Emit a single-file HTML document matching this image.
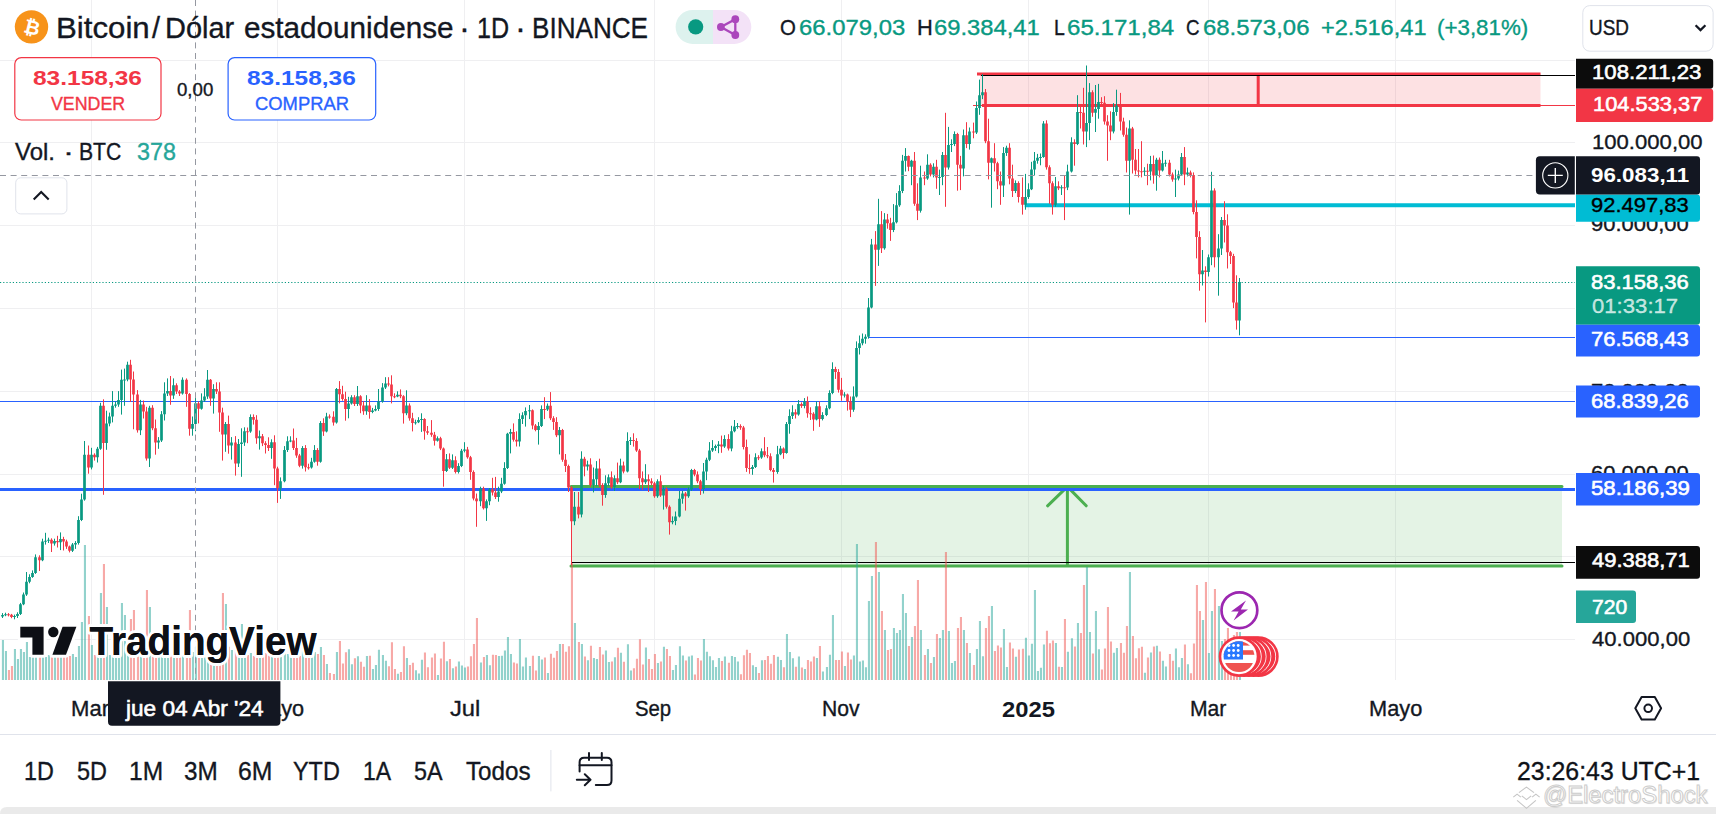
<!DOCTYPE html>
<html lang="es"><head><meta charset="utf-8"><title>BTCUSD · TradingView</title>
<style>
html,body{margin:0;padding:0}
body{width:1716px;height:818px;position:relative;overflow:hidden;background:#fff;font-family:'Liberation Sans', sans-serif;color:#131722}
svg{position:absolute;left:0;top:0;overflow:visible}
.t{position:absolute;white-space:pre;transform-origin:0 50%;display:block;-webkit-text-stroke-width:0.35px}
.coin{position:absolute;left:19.9px;top:15.6px;width:24px;height:24px;text-align:center;color:#fff;font:700 19.5px/24px 'DejaVu Sans',sans-serif;transform:rotate(14deg)}
</style></head>
<body>
<svg class="chart" width="1716" height="818" viewBox="0 0 1716 818"><path d="M91.5 0V680M277.5 0V680M464.5 0V680M654.5 0V680M841.5 0V680M1028.5 0V680M1208.5 0V680M1395.5 0V680M0 60.5H1575M0 142.5H1575M0 225.5H1575M0 308.5H1575M0 391.5H1575M0 474.5H1575M0 556.5H1575M0 639.5H1575" stroke="#efeff1" stroke-width="1" fill="none"/>
<rect x="980" y="74" width="560.5" height="31.5" fill="#f23645" fill-opacity=".15"/>
<path d="M973 105.5H1575" stroke="#f23645" stroke-width="1"/>
<path d="M977 74H1540.5M982 105.5H1540.5M1258.2 72.5V107" stroke="#f23645" stroke-width="3"/>
<path d="M981 75.5H1575" stroke="#000" stroke-width="1"/>
<path d="M1024.7 205.3H1575" stroke="#00bcd4" stroke-width="4"/>
<path d="M869 337.5H1575M0 401.5H1575" stroke="#2962ff" stroke-width="1.2"/>
<rect x="571" y="486.6" width="991" height="79.4" fill="#4caf50" fill-opacity=".15"/>
<path d="M571 486.6H1562M571 566H1562M1067.4 566V487M1047.6 505.8L1067.4 486.6L1086.2 505.8" stroke="#4caf50" stroke-width="3" fill="none" stroke-linecap="round" stroke-linejoin="round"/>
<path d="M0 489.5H1575" stroke="#2962ff" stroke-width="2.9"/>
<path d="M571 562.5H1575" stroke="#000" stroke-width="1"/>
<path d="M1.9 680v-40.0h2.1v40.0zM4.9 680v-29.0h2.1v29.0zM13.9 680v-31.0h2.1v31.0zM16.9 680v-21.0h2.1v21.0zM19.9 680v-31.0h2.1v31.0zM22.9 680v-28.0h2.1v28.0zM25.9 680v-38.0h2.1v38.0zM28.9 680v-23.0h2.1v23.0zM31.9 680v-25.0h2.1v25.0zM34.9 680v-27.0h2.1v27.0zM41.9 680v-26.0h2.1v26.0zM44.9 680v-23.0h2.1v23.0zM47.9 680v-25.0h2.1v25.0zM53.9 680v-24.0h2.1v24.0zM59.9 680v-23.5h2.1v23.5zM71.9 680v-26.0h2.1v26.0zM74.9 680v-23.0h2.1v23.0zM77.9 680v-33.9h2.1v33.9zM80.9 680v-58.0h2.1v58.0zM83.9 680v-135.0h2.1v135.0zM90.9 680v-35.0h2.1v35.0zM96.9 680v-27.0h2.1v27.0zM99.9 680v-87.0h2.1v87.0zM105.9 680v-73.0h2.1v73.0zM108.9 680v-25.0h2.1v25.0zM111.9 680v-38.4h2.1v38.4zM114.9 680v-24.0h2.1v24.0zM117.9 680v-26.3h2.1v26.3zM120.9 680v-77.0h2.1v77.0zM123.9 680v-65.0h2.1v65.0zM126.9 680v-27.0h2.1v27.0zM139.9 680v-33.4h2.1v33.4zM148.9 680v-73.0h2.1v73.0zM157.9 680v-27.0h2.1v27.0zM160.9 680v-33.9h2.1v33.9zM163.9 680v-43.7h2.1v43.7zM166.9 680v-23.0h2.1v23.0zM172.9 680v-27.0h2.1v27.0zM181.9 680v-24.2h2.1v24.2zM191.9 680v-28.1h2.1v28.1zM194.9 680v-33.3h2.1v33.3zM200.9 680v-25.0h2.1v25.0zM203.9 680v-27.0h2.1v27.0zM206.9 680v-25.6h2.1v25.6zM212.9 680v-28.1h2.1v28.1zM224.9 680v-76.0h2.1v76.0zM230.9 680v-29.9h2.1v29.9zM237.9 680v-30.9h2.1v30.9zM240.9 680v-55.9h2.1v55.9zM243.9 680v-23.0h2.1v23.0zM249.9 680v-27.0h2.1v27.0zM258.9 680v-23.2h2.1v23.2zM270.9 680v-26.0h2.1v26.0zM279.9 680v-27.7h2.1v27.7zM283.9 680v-40.3h2.1v40.3zM286.9 680v-26.0h2.1v26.0zM289.9 680v-23.0h2.1v23.0zM301.9 680v-29.6h2.1v29.6zM310.9 680v-27.0h2.1v27.0zM313.9 680v-27.9h2.1v27.9zM319.9 680v-33.0h2.1v33.0zM325.9 680v-16.0h2.1v16.0zM335.9 680v-28.0h2.1v28.0zM347.9 680v-30.7h2.1v30.7zM350.9 680v-15.8h2.1v15.8zM356.9 680v-23.8h2.1v23.8zM365.9 680v-24.0h2.1v24.0zM371.9 680v-11.0h2.1v11.0zM374.9 680v-14.9h2.1v14.9zM377.9 680v-30.2h2.1v30.2zM381.9 680v-25.0h2.1v25.0zM384.9 680v-19.2h2.1v19.2zM396.9 680v-6.2h2.1v6.2zM405.9 680v-22.1h2.1v22.1zM414.9 680v-9.7h2.1v9.7zM417.9 680v-6.6h2.1v6.6zM420.9 680v-20.3h2.1v20.3zM436.9 680v-4.9h2.1v4.9zM445.9 680v-18.8h2.1v18.8zM451.9 680v-11.7h2.1v11.7zM457.9 680v-18.6h2.1v18.6zM460.9 680v-14.4h2.1v14.4zM463.9 680v-12.4h2.1v12.4zM479.9 680v-17.4h2.1v17.4zM485.9 680v-24.9h2.1v24.9zM488.9 680v-14.8h2.1v14.8zM497.9 680v-24.0h2.1v24.0zM500.9 680v-24.3h2.1v24.3zM503.9 680v-29.5h2.1v29.5zM506.9 680v-42.9h2.1v42.9zM509.9 680v-26.1h2.1v26.1zM518.9 680v-41.1h2.1v41.1zM521.9 680v-13.4h2.1v13.4zM524.9 680v-22.4h2.1v22.4zM528.9 680v-14.1h2.1v14.1zM537.9 680v-24.0h2.1v24.0zM540.9 680v-20.4h2.1v20.4zM546.9 680v-6.9h2.1v6.9zM558.9 680v-36.0h2.1v36.0zM573.9 680v-57.0h2.1v57.0zM580.9 680v-36.0h2.1v36.0zM586.9 680v-19.7h2.1v19.7zM592.9 680v-21.9h2.1v21.9zM595.9 680v-21.1h2.1v21.1zM604.9 680v-29.6h2.1v29.6zM607.9 680v-18.1h2.1v18.1zM613.9 680v-22.8h2.1v22.8zM619.9 680v-27.2h2.1v27.2zM626.9 680v-35.7h2.1v35.7zM629.9 680v-9.6h2.1v9.6zM644.9 680v-32.6h2.1v32.6zM656.9 680v-16.9h2.1v16.9zM662.9 680v-33.2h2.1v33.2zM671.9 680v-10.1h2.1v10.1zM674.9 680v-14.9h2.1v14.9zM678.9 680v-33.7h2.1v33.7zM681.9 680v-24.4h2.1v24.4zM687.9 680v-23.4h2.1v23.4zM690.9 680v-24.5h2.1v24.5zM702.9 680v-40.9h2.1v40.9zM705.9 680v-28.3h2.1v28.3zM708.9 680v-23.7h2.1v23.7zM711.9 680v-19.8h2.1v19.8zM714.9 680v-13.1h2.1v13.1zM717.9 680v-21.9h2.1v21.9zM723.9 680v-23.5h2.1v23.5zM730.9 680v-24.1h2.1v24.1zM733.9 680v-23.0h2.1v23.0zM736.9 680v-18.6h2.1v18.6zM751.9 680v-14.8h2.1v14.8zM754.9 680v-13.0h2.1v13.0zM760.9 680v-19.7h2.1v19.7zM776.9 680v-23.3h2.1v23.3zM779.9 680v-20.1h2.1v20.1zM785.9 680v-46.0h2.1v46.0zM788.9 680v-27.9h2.1v27.9zM791.9 680v-21.8h2.1v21.8zM797.9 680v-23.5h2.1v23.5zM803.9 680v-10.9h2.1v10.9zM815.9 680v-22.1h2.1v22.1zM821.9 680v-8.4h2.1v8.4zM825.9 680v-13.1h2.1v13.1zM828.9 680v-25.3h2.1v25.3zM831.9 680v-65.0h2.1v65.0zM843.9 680v-13.9h2.1v13.9zM852.9 680v-24.6h2.1v24.6zM855.9 680v-136.0h2.1v136.0zM858.9 680v-18.6h2.1v18.6zM861.9 680v-19.5h2.1v19.5zM864.9 680v-12.7h2.1v12.7zM867.9 680v-79.0h2.1v79.0zM870.9 680v-104.0h2.1v104.0zM877.9 680v-108.0h2.1v108.0zM883.9 680v-50.0h2.1v50.0zM892.9 680v-52.0h2.1v52.0zM895.9 680v-47.0h2.1v47.0zM898.9 680v-50.0h2.1v50.0zM901.9 680v-86.0h2.1v86.0zM904.9 680v-67.0h2.1v67.0zM910.9 680v-43.0h2.1v43.0zM919.9 680v-50.0h2.1v50.0zM926.9 680v-31.0h2.1v31.0zM932.9 680v-23.0h2.1v23.0zM938.9 680v-42.0h2.1v42.0zM941.9 680v-50.0h2.1v50.0zM947.9 680v-49.0h2.1v49.0zM950.9 680v-17.0h2.1v17.0zM953.9 680v-19.0h2.1v19.0zM962.9 680v-50.0h2.1v50.0zM968.9 680v-27.0h2.1v27.0zM975.9 680v-31.0h2.1v31.0zM978.9 680v-59.0h2.1v59.0zM981.9 680v-23.7h2.1v23.7zM990.9 680v-74.0h2.1v74.0zM1002.9 680v-51.1h2.1v51.1zM1005.9 680v-13.1h2.1v13.1zM1014.9 680v-23.2h2.1v23.2zM1024.9 680v-42.3h2.1v42.3zM1027.9 680v-24.4h2.1v24.4zM1030.9 680v-36.2h2.1v36.2zM1033.9 680v-90.0h2.1v90.0zM1036.9 680v-8.9h2.1v8.9zM1039.9 680v-12.2h2.1v12.2zM1042.9 680v-35.5h2.1v35.5zM1054.9 680v-37.0h2.1v37.0zM1060.9 680v-13.0h2.1v13.0zM1066.9 680v-28.3h2.1v28.3zM1070.9 680v-41.7h2.1v41.7zM1076.9 680v-57.0h2.1v57.0zM1085.9 680v-113.0h2.1v113.0zM1088.9 680v-48.0h2.1v48.0zM1094.9 680v-69.0h2.1v69.0zM1097.9 680v-30.7h2.1v30.7zM1112.9 680v-27.3h2.1v27.3zM1115.9 680v-31.9h2.1v31.9zM1128.9 680v-108.0h2.1v108.0zM1143.9 680v-7.2h2.1v7.2zM1149.9 680v-27.5h2.1v27.5zM1155.9 680v-34.2h2.1v34.2zM1161.9 680v-19.2h2.1v19.2zM1164.9 680v-13.4h2.1v13.4zM1174.9 680v-31.6h2.1v31.6zM1177.9 680v-12.8h2.1v12.8zM1180.9 680v-21.9h2.1v21.9zM1186.9 680v-15.8h2.1v15.8zM1201.9 680v-60.0h2.1v60.0zM1207.9 680v-27.0h2.1v27.0zM1210.9 680v-69.0h2.1v69.0zM1217.9 680v-74.0h2.1v74.0zM1220.9 680v-39.0h2.1v39.0zM1238.9 680v-48.0h2.1v48.0z" fill="#26a69a" fill-opacity=".5"/>
<path d="M7.9 680v-10.0h2.1v10.0zM10.9 680v-14.0h2.1v14.0zM38.9 680v-24.0h2.1v24.0zM50.9 680v-27.0h2.1v27.0zM56.9 680v-26.0h2.1v26.0zM62.9 680v-25.0h2.1v25.0zM65.9 680v-27.0h2.1v27.0zM68.9 680v-24.0h2.1v24.0zM87.9 680v-64.0h2.1v64.0zM93.9 680v-25.0h2.1v25.0zM102.9 680v-116.0h2.1v116.0zM129.9 680v-61.0h2.1v61.0zM132.9 680v-70.0h2.1v70.0zM136.9 680v-45.2h2.1v45.2zM142.9 680v-27.0h2.1v27.0zM145.9 680v-90.0h2.1v90.0zM151.9 680v-23.4h2.1v23.4zM154.9 680v-31.5h2.1v31.5zM169.9 680v-26.6h2.1v26.6zM175.9 680v-24.0h2.1v24.0zM178.9 680v-26.0h2.1v26.0zM185.9 680v-32.8h2.1v32.8zM188.9 680v-70.0h2.1v70.0zM197.9 680v-27.0h2.1v27.0zM209.9 680v-35.5h2.1v35.5zM215.9 680v-25.0h2.1v25.0zM218.9 680v-47.5h2.1v47.5zM221.9 680v-87.0h2.1v87.0zM227.9 680v-33.3h2.1v33.3zM234.9 680v-46.9h2.1v46.9zM246.9 680v-25.0h2.1v25.0zM252.9 680v-24.0h2.1v24.0zM255.9 680v-36.4h2.1v36.4zM261.9 680v-25.0h2.1v25.0zM264.9 680v-27.0h2.1v27.0zM267.9 680v-26.5h2.1v26.5zM273.9 680v-44.3h2.1v44.3zM276.9 680v-44.5h2.1v44.5zM292.9 680v-31.8h2.1v31.8zM295.9 680v-31.2h2.1v31.2zM298.9 680v-24.0h2.1v24.0zM304.9 680v-37.1h2.1v37.1zM307.9 680v-25.0h2.1v25.0zM316.9 680v-26.0h2.1v26.0zM322.9 680v-25.0h2.1v25.0zM328.9 680v-7.0h2.1v7.0zM332.9 680v-6.0h2.1v6.0zM338.9 680v-39.0h2.1v39.0zM341.9 680v-16.4h2.1v16.4zM344.9 680v-27.8h2.1v27.8zM353.9 680v-21.8h2.1v21.8zM359.9 680v-18.2h2.1v18.2zM362.9 680v-13.2h2.1v13.2zM368.9 680v-24.3h2.1v24.3zM387.9 680v-13.7h2.1v13.7zM390.9 680v-37.7h2.1v37.7zM393.9 680v-11.0h2.1v11.0zM399.9 680v-7.9h2.1v7.9zM402.9 680v-33.8h2.1v33.8zM408.9 680v-14.9h2.1v14.9zM411.9 680v-17.3h2.1v17.3zM423.9 680v-27.5h2.1v27.5zM426.9 680v-12.8h2.1v12.8zM430.9 680v-22.6h2.1v22.6zM433.9 680v-26.6h2.1v26.6zM439.9 680v-21.5h2.1v21.5zM442.9 680v-38.3h2.1v38.3zM448.9 680v-21.1h2.1v21.1zM454.9 680v-13.4h2.1v13.4zM466.9 680v-13.4h2.1v13.4zM469.9 680v-23.7h2.1v23.7zM472.9 680v-36.0h2.1v36.0zM475.9 680v-62.0h2.1v62.0zM482.9 680v-22.9h2.1v22.9zM491.9 680v-25.2h2.1v25.2zM494.9 680v-25.1h2.1v25.1zM512.9 680v-17.6h2.1v17.6zM515.9 680v-16.4h2.1v16.4zM531.9 680v-24.2h2.1v24.2zM534.9 680v-9.4h2.1v9.4zM543.9 680v-22.4h2.1v22.4zM549.9 680v-26.3h2.1v26.3zM552.9 680v-22.2h2.1v22.2zM555.9 680v-29.1h2.1v29.1zM561.9 680v-36.1h2.1v36.1zM564.9 680v-28.3h2.1v28.3zM567.9 680v-33.8h2.1v33.8zM570.9 680v-117.0h2.1v117.0zM577.9 680v-38.0h2.1v38.0zM583.9 680v-23.4h2.1v23.4zM589.9 680v-34.2h2.1v34.2zM598.9 680v-32.9h2.1v32.9zM601.9 680v-25.6h2.1v25.6zM610.9 680v-18.5h2.1v18.5zM616.9 680v-32.2h2.1v32.2zM622.9 680v-18.3h2.1v18.3zM632.9 680v-11.8h2.1v11.8zM635.9 680v-21.3h2.1v21.3zM638.9 680v-40.7h2.1v40.7zM641.9 680v-15.6h2.1v15.6zM647.9 680v-20.9h2.1v20.9zM650.9 680v-11.0h2.1v11.0zM653.9 680v-25.9h2.1v25.9zM659.9 680v-18.6h2.1v18.6zM665.9 680v-31.0h2.1v31.0zM668.9 680v-24.1h2.1v24.1zM684.9 680v-19.4h2.1v19.4zM693.9 680v-5.4h2.1v5.4zM696.9 680v-22.1h2.1v22.1zM699.9 680v-19.4h2.1v19.4zM720.9 680v-19.1h2.1v19.1zM727.9 680v-17.3h2.1v17.3zM739.9 680v-5.7h2.1v5.7zM742.9 680v-24.7h2.1v24.7zM745.9 680v-30.3h2.1v30.3zM748.9 680v-26.9h2.1v26.9zM757.9 680v-7.1h2.1v7.1zM763.9 680v-20.0h2.1v20.0zM766.9 680v-24.0h2.1v24.0zM769.9 680v-16.3h2.1v16.3zM772.9 680v-24.9h2.1v24.9zM782.9 680v-12.8h2.1v12.8zM794.9 680v-13.3h2.1v13.3zM800.9 680v-12.4h2.1v12.4zM806.9 680v-19.9h2.1v19.9zM809.9 680v-18.4h2.1v18.4zM812.9 680v-23.5h2.1v23.5zM818.9 680v-34.1h2.1v34.1zM834.9 680v-19.9h2.1v19.9zM837.9 680v-20.1h2.1v20.1zM840.9 680v-28.5h2.1v28.5zM846.9 680v-27.5h2.1v27.5zM849.9 680v-20.6h2.1v20.6zM874.9 680v-138.0h2.1v138.0zM880.9 680v-69.0h2.1v69.0zM886.9 680v-30.0h2.1v30.0zM889.9 680v-31.0h2.1v31.0zM907.9 680v-34.0h2.1v34.0zM913.9 680v-54.0h2.1v54.0zM916.9 680v-100.0h2.1v100.0zM923.9 680v-25.0h2.1v25.0zM929.9 680v-17.0h2.1v17.0zM935.9 680v-46.0h2.1v46.0zM944.9 680v-128.0h2.1v128.0zM956.9 680v-52.0h2.1v52.0zM959.9 680v-63.0h2.1v63.0zM965.9 680v-37.0h2.1v37.0zM972.9 680v-15.0h2.1v15.0zM984.9 680v-52.0h2.1v52.0zM987.9 680v-64.0h2.1v64.0zM993.9 680v-28.9h2.1v28.9zM996.9 680v-34.5h2.1v34.5zM999.9 680v-32.6h2.1v32.6zM1008.9 680v-37.4h2.1v37.4zM1011.9 680v-31.4h2.1v31.4zM1017.9 680v-30.4h2.1v30.4zM1021.9 680v-31.3h2.1v31.3zM1045.9 680v-49.3h2.1v49.3zM1048.9 680v-36.7h2.1v36.7zM1051.9 680v-39.6h2.1v39.6zM1057.9 680v-13.2h2.1v13.2zM1063.9 680v-61.0h2.1v61.0zM1073.9 680v-33.5h2.1v33.5zM1079.9 680v-47.0h2.1v47.0zM1082.9 680v-95.0h2.1v95.0zM1091.9 680v-26.6h2.1v26.6zM1100.9 680v-10.5h2.1v10.5zM1103.9 680v-31.5h2.1v31.5zM1106.9 680v-73.0h2.1v73.0zM1109.9 680v-38.6h2.1v38.6zM1119.9 680v-37.1h2.1v37.1zM1122.9 680v-27.3h2.1v27.3zM1125.9 680v-54.0h2.1v54.0zM1131.9 680v-44.0h2.1v44.0zM1134.9 680v-21.7h2.1v21.7zM1137.9 680v-31.7h2.1v31.7zM1140.9 680v-33.2h2.1v33.2zM1146.9 680v-22.5h2.1v22.5zM1152.9 680v-33.6h2.1v33.6zM1158.9 680v-28.4h2.1v28.4zM1168.9 680v-26.1h2.1v26.1zM1171.9 680v-19.2h2.1v19.2zM1183.9 680v-35.4h2.1v35.4zM1189.9 680v-6.7h2.1v6.7zM1192.9 680v-36.4h2.1v36.4zM1195.9 680v-95.0h2.1v95.0zM1198.9 680v-69.0h2.1v69.0zM1204.9 680v-98.0h2.1v98.0zM1213.9 680v-91.0h2.1v91.0zM1223.9 680v-41.0h2.1v41.0zM1226.9 680v-52.0h2.1v52.0zM1229.9 680v-30.0h2.1v30.0zM1232.9 680v-45.0h2.1v45.0zM1235.9 680v-48.0h2.1v48.0z" fill="#ef5350" fill-opacity=".5"/>
<path d="M2.5 613.1V618.0M5.5 612.7V616.2M14.5 614.6V619.3M17.5 612.3V618.0M20.5 602.9V615.0M23.5 592.5V605.2M26.5 572.0V595.9M29.5 574.3V583.3M32.5 570.4V577.8M35.5 554.4V573.9M42.5 538.7V561.2M45.5 532.8V544.6M48.5 537.7V543.0M54.5 538.7V545.6M60.5 532.4V550.1M72.5 543.0V552.0M75.5 541.1V548.9M78.5 516.2V544.6M81.5 493.7V521.1M84.5 441.0V500.7M91.5 447.8V469.4M97.5 446.9V462.5M100.5 402.8V449.8M106.5 410.7V449.8M109.5 412.6V426.3M112.5 391.1V422.4M115.5 401.3V407.7M118.5 391.1V406.8M121.5 369.6V414.6M124.5 368.6V405.8M127.5 361.7V381.3M140.5 399.9V435.1M149.5 405.8V467.0M158.5 437.1V448.8M161.5 411.1V442.0M164.5 382.3V420.5M167.5 378.4V396.0M173.5 378.4V398.9M182.5 377.4V394.6M192.5 416.5V435.7M195.5 397.9V431.2M201.5 393.4V409.7M204.5 388.2V401.9M207.5 370.0V398.9M213.5 384.2V413.6M225.5 422.0V451.8M231.5 437.1V459.6M238.5 439.0V467.0M241.5 428.3V476.8M244.5 427.3V445.9M250.5 414.4V432.8M259.5 430.5V449.6M271.5 439.3V458.8M280.5 477.4V498.9M284.5 446.1V482.3M287.5 436.3V452.0M290.5 436.3V442.2M302.5 446.1V468.6M311.5 457.8V468.6M314.5 445.1V462.7M320.5 421.1V462.7M326.5 412.8V432.4M336.5 388.0V423.6M348.5 396.8V418.3M351.5 395.2V404.6M357.5 386.0V406.0M366.5 395.2V414.8M372.5 407.9V413.2M375.5 405.4V411.3M378.5 389.0V410.9M382.5 383.1V402.7M385.5 377.2V389.0M397.5 391.3V397.2M406.5 390.3V415.2M415.5 419.7V424.6M418.5 417.2V423.1M421.5 413.3V431.9M437.5 436.4V441.6M446.5 454.0V472.0M452.5 454.4V469.0M458.5 463.2V473.5M461.5 448.9V467.1M464.5 442.2V452.4M480.5 486.7V506.2M486.5 499.4V520.9M489.5 488.0V505.2M498.5 486.7V501.7M501.5 477.8V493.1M504.5 462.2V484.7M507.5 432.8V469.0M510.5 428.9V453.4M519.5 413.3V446.5M522.5 412.3V424.0M525.5 407.4V426.6M529.5 405.0V419.1M538.5 422.1V444.6M541.5 405.4V427.0M547.5 403.5V410.9M559.5 427.0V454.4M574.5 492.0V525.2M581.5 451.3V517.4M587.5 460.7V470.5M593.5 467.5V492.4M596.5 461.1V486.1M605.5 475.3V497.8M608.5 474.4V486.1M614.5 475.3V491.0M620.5 458.7V483.2M627.5 432.3V472.4M630.5 437.2V445.0M645.5 464.2V484.1M657.5 479.3V497.8M663.5 486.1V509.6M672.5 516.4V524.3M675.5 511.5V525.2M679.5 491.0V517.4M682.5 491.0V503.7M688.5 487.1V497.8M691.5 468.9V491.0M703.5 463.0V493.5M706.5 457.7V480.2M709.5 442.1V461.1M712.5 440.1V451.9M715.5 444.6V450.9M718.5 441.1V453.2M724.5 435.2V447.9M731.5 425.8V451.3M734.5 420.0V432.3M737.5 423.0V428.8M752.5 465.0V474.8M755.5 453.3V468.0M761.5 448.4V458.8M777.5 445.9V473.8M780.5 445.9V455.2M786.5 422.0V453.7M789.5 409.3V433.7M792.5 405.3V419.0M798.5 400.1V415.7M804.5 398.1V408.3M816.5 401.4V420.4M822.5 412.2V420.4M826.5 405.3V416.1M829.5 390.3V409.3M832.5 362.3V394.2M844.5 392.2V397.5M853.5 386.4V411.8M856.5 341.4V397.5M859.5 335.5V354.5M862.5 333.5V345.3M865.5 334.3V343.7M868.5 298.0V338.7M871.5 238.9V308.4M878.5 198.8V265.9M884.5 213.1V249.7M893.5 204.1V232.1M896.5 193.1V223.4M899.5 185.2V206.8M902.5 154.9V193.1M905.5 148.1V171.5M911.5 159.8V185.2M920.5 165.7V212.6M927.5 154.3V179.8M933.5 163.3V177.4M939.5 169.6V195.0M942.5 152.0V185.2M948.5 126.9V169.6M951.5 139.3V152.0M954.5 131.4V146.1M963.5 129.5V176.4M969.5 127.5V149.6M976.5 101.5V134.0M979.5 79.6V114.8M982.5 74.1V99.1M991.5 157.5V207.7M1003.5 147.1V197.0M1006.5 145.7V155.9M1015.5 180.4V193.1M1025.5 173.9V209.7M1028.5 183.3V198.9M1031.5 161.8V190.1M1034.5 152.0V175.5M1037.5 153.9V163.7M1040.5 153.5V165.3M1043.5 121.1V157.8M1055.5 177.0V206.8M1061.5 185.2V195.0M1067.5 164.7V190.1M1071.5 137.3V172.5M1077.5 95.2V145.1M1086.5 65.5V147.1M1089.5 83.1V140.2M1095.5 85.0V132.0M1098.5 83.9V118.7M1113.5 103.1V133.4M1116.5 89.7V115.8M1129.5 120.3V214.6M1144.5 167.2V175.9M1150.5 155.9V180.4M1156.5 157.8V190.7M1162.5 151.0V171.5M1165.5 159.8V166.7M1175.5 169.6V197.0M1178.5 170.6V180.4M1181.5 153.0V175.5M1187.5 167.6V176.4M1202.5 250.0V285.5M1208.5 254.5V276.5M1211.5 171.8V265.2M1218.5 234.2V295.7M1221.5 217.0V255.0M1239.5 278.0V335.3" stroke="#089981" stroke-width="1" fill="none"/>
<path d="M8.5 613.1V616.4M11.5 613.9V618.2M39.5 555.3V571.0M51.5 538.3V552.0M57.5 535.8V547.5M63.5 536.8V550.5M66.5 539.7V548.9M69.5 545.6V552.4M88.5 445.5V473.7M94.5 453.3V460.6M103.5 399.3V494.8M130.5 359.8V401.9M133.5 371.5V429.3M137.5 390.1V432.6M143.5 400.5V418.5M146.5 406.8V460.6M152.5 405.2V430.2M155.5 419.5V454.7M170.5 376.0V404.8M176.5 383.3V394.0M179.5 390.1V396.0M186.5 378.4V406.8M189.5 393.1V435.7M198.5 401.3V423.4M210.5 379.0V405.8M216.5 382.3V394.0M219.5 382.3V431.8M222.5 407.7V460.6M228.5 415.6V453.7M235.5 436.1V475.6M247.5 427.5V443.2M253.5 414.4V424.6M256.5 415.2V443.8M262.5 434.0V446.1M265.5 441.2V453.5M268.5 437.3V451.0M274.5 435.3V485.2M277.5 466.7V502.9M293.5 428.5V450.0M296.5 437.9V457.8M299.5 453.9V467.2M305.5 445.1V471.5M308.5 463.7V469.6M317.5 448.1V465.7M323.5 418.3V435.9M329.5 414.4V418.7M333.5 411.3V425.6M339.5 381.1V403.4M342.5 385.8V400.7M345.5 391.7V420.7M354.5 395.2V406.0M360.5 395.2V413.2M363.5 401.1V414.8M369.5 399.1V418.7M388.5 377.2V386.4M391.5 375.3V403.4M394.5 393.3V398.2M400.5 389.4V398.2M403.5 395.2V423.6M409.5 403.4V420.7M412.5 412.8V431.4M424.5 418.2V439.7M427.5 426.0V434.8M431.5 420.1V436.8M434.5 431.9V445.6M440.5 436.8V450.1M443.5 447.5V486.7M449.5 453.4V469.0M455.5 456.3V473.5M467.5 446.9V458.7M470.5 455.9V479.8M473.5 470.4V500.4M476.5 493.5V526.8M483.5 486.7V509.5M492.5 477.8V495.5M495.5 476.9V499.0M513.5 423.4V441.6M516.5 431.3V446.5M532.5 409.4V429.3M535.5 424.0V431.3M544.5 397.2V419.1M550.5 392.1V420.1M553.5 416.2V429.9M556.5 417.2V437.1M562.5 428.9V461.8M565.5 454.0V472.0M568.5 464.6V492.0M571.5 486.1V565.0M578.5 492.0V518.4M584.5 456.8V476.3M590.5 458.3V487.1M599.5 458.7V487.1M602.5 483.2V505.7M611.5 471.4V489.0M617.5 462.6V484.1M623.5 461.6V473.4M633.5 433.3V446.6M636.5 438.2V451.9M639.5 448.9V489.0M642.5 471.4V490.0M648.5 474.4V492.0M651.5 478.3V485.1M654.5 481.8V497.8M660.5 475.3V496.9M666.5 487.1V508.6M669.5 505.3V534.6M685.5 492.0V510.6M694.5 468.9V476.3M697.5 471.4V483.2M700.5 479.8V494.9M721.5 435.6V452.8M728.5 434.2V450.5M740.5 424.3V429.8M743.5 425.9V449.4M746.5 439.6V471.9M749.5 454.3V473.8M758.5 455.2V460.1M764.5 437.2V457.2M767.5 447.0V458.2M770.5 453.3V471.3M773.5 468.0V482.6M783.5 447.4V458.8M795.5 409.3V418.5M801.5 402.4V407.9M807.5 396.5V417.7M810.5 407.3V420.0M813.5 412.2V430.8M819.5 401.4V426.9M835.5 366.8V378.9M838.5 369.1V392.6M841.5 377.9V400.8M847.5 393.6V410.6M850.5 396.5V417.1M875.5 231.1V285.9M881.5 211.1V253.0M887.5 213.9V228.7M890.5 217.8V240.9M908.5 155.5V171.2M914.5 152.0V205.8M917.5 183.3V220.1M924.5 171.5V185.2M930.5 163.3V176.4M936.5 159.8V188.8M945.5 112.8V206.8M957.5 132.8V190.7M960.5 155.9V190.1M966.5 122.2V148.1M973.5 122.6V138.3M985.5 89.0V143.2M988.5 118.7V179.4M994.5 143.2V171.5M997.5 161.8V189.2M1000.5 171.5V204.8M1009.5 143.2V184.3M1012.5 164.7V197.0M1018.5 181.3V202.5M1022.5 177.4V214.6M1046.5 120.3V169.6M1049.5 165.3V203.8M1052.5 181.3V214.6M1058.5 181.3V190.1M1064.5 175.5V220.1M1074.5 139.3V165.7M1080.5 107.0V128.5M1083.5 87.8V144.5M1092.5 90.3V116.8M1101.5 97.2V106.0M1104.5 96.2V124.6M1107.5 115.2V160.8M1110.5 111.3V140.2M1120.5 92.9V130.5M1123.5 117.7V136.7M1126.5 127.5V172.5M1132.5 126.9V173.5M1135.5 149.0V174.5M1138.5 149.0V177.4M1141.5 141.2V177.4M1147.5 163.7V185.2M1153.5 155.5V183.7M1159.5 157.5V177.4M1169.5 159.8V176.4M1172.5 172.5V181.7M1184.5 147.1V185.2M1190.5 170.6V177.4M1193.5 172.4V214.3M1196.5 200.3V258.4M1199.5 231.2V290.7M1205.5 266.3V322.4M1214.5 188.3V267.4M1224.5 201.2V242.5M1227.5 214.3V268.5M1230.5 250.9V264.0M1233.5 253.8V308.1M1236.5 275.3V329.6" stroke="#f23645" stroke-width="1" fill="none"/>
<path d="M1.15 615.0h2.7V616.4h-2.7zM4.15 614.2h2.7V615.2h-2.7zM13.15 616.0h2.7V617.0h-2.7zM16.15 614.1h2.7V616.0h-2.7zM19.15 604.3h2.7V614.1h-2.7zM22.15 594.5h2.7V604.3h-2.7zM25.15 581.8h2.7V594.5h-2.7zM28.15 576.9h2.7V581.8h-2.7zM31.15 573.0h2.7V576.9h-2.7zM34.15 557.3h2.7V573.0h-2.7zM41.15 541.6h2.7V560.2h-2.7zM44.15 540.7h2.7V541.7h-2.7zM47.15 539.7h2.7V540.7h-2.7zM53.15 541.1h2.7V543.6h-2.7zM59.15 539.1h2.7V542.2h-2.7zM71.15 544.6h2.7V550.8h-2.7zM74.15 543.0h2.7V544.6h-2.7zM77.15 520.1h2.7V543.0h-2.7zM80.15 499.6h2.7V520.1h-2.7zM83.15 454.7h2.7V499.6h-2.7zM90.15 454.7h2.7V467.4h-2.7zM96.15 448.8h2.7V457.2h-2.7zM99.15 405.8h2.7V448.8h-2.7zM105.15 423.4h2.7V443.0h-2.7zM108.15 416.5h2.7V423.4h-2.7zM111.15 405.8h2.7V416.5h-2.7zM114.15 404.4h2.7V405.8h-2.7zM117.15 399.9h2.7V404.4h-2.7zM120.15 379.7h2.7V399.9h-2.7zM123.15 379.4h2.7V380.4h-2.7zM126.15 364.7h2.7V379.4h-2.7zM139.15 404.4h2.7V430.2h-2.7zM148.15 407.7h2.7V458.6h-2.7zM157.15 440.4h2.7V442.4h-2.7zM160.15 414.2h2.7V440.4h-2.7zM163.15 393.4h2.7V414.2h-2.7zM166.15 391.1h2.7V393.4h-2.7zM172.15 385.2h2.7V395.4h-2.7zM181.15 379.7h2.7V393.4h-2.7zM191.15 424.0h2.7V428.7h-2.7zM194.15 403.2h2.7V424.0h-2.7zM200.15 400.5h2.7V408.7h-2.7zM203.15 396.6h2.7V400.5h-2.7zM206.15 379.7h2.7V396.6h-2.7zM212.15 389.1h2.7V398.5h-2.7zM224.15 424.0h2.7V434.5h-2.7zM230.15 442.4h2.7V445.5h-2.7zM237.15 443.9h2.7V463.5h-2.7zM240.15 442.4h2.7V443.9h-2.7zM243.15 431.2h2.7V442.4h-2.7zM249.15 417.1h2.7V431.4h-2.7zM258.15 436.3h2.7V438.3h-2.7zM270.15 442.2h2.7V448.1h-2.7zM279.15 481.3h2.7V488.2h-2.7zM283.15 450.0h2.7V481.3h-2.7zM286.15 441.2h2.7V450.0h-2.7zM289.15 440.6h2.7V441.6h-2.7zM301.15 448.1h2.7V465.7h-2.7zM310.15 461.8h2.7V467.6h-2.7zM313.15 450.0h2.7V461.8h-2.7zM319.15 423.0h2.7V461.8h-2.7zM325.15 416.4h2.7V431.4h-2.7zM335.15 389.0h2.7V422.6h-2.7zM347.15 403.4h2.7V408.9h-2.7zM350.15 397.2h2.7V403.4h-2.7zM356.15 396.2h2.7V404.0h-2.7zM365.15 405.4h2.7V411.3h-2.7zM371.15 410.5h2.7V411.9h-2.7zM374.15 408.9h2.7V410.5h-2.7zM377.15 401.5h2.7V408.9h-2.7zM381.15 387.4h2.7V401.5h-2.7zM384.15 383.5h2.7V387.4h-2.7zM396.15 394.8h2.7V396.4h-2.7zM405.15 405.4h2.7V413.2h-2.7zM414.15 422.2h2.7V423.2h-2.7zM417.15 420.1h2.7V422.2h-2.7zM420.15 419.1h2.7V420.1h-2.7zM436.15 438.3h2.7V440.7h-2.7zM445.15 459.3h2.7V471.0h-2.7zM451.15 460.2h2.7V467.7h-2.7zM457.15 466.1h2.7V472.0h-2.7zM460.15 450.8h2.7V466.1h-2.7zM463.15 449.5h2.7V450.8h-2.7zM479.15 488.6h2.7V501.3h-2.7zM485.15 501.3h2.7V508.2h-2.7zM488.15 489.6h2.7V501.3h-2.7zM497.15 491.5h2.7V497.0h-2.7zM500.15 483.7h2.7V491.5h-2.7zM503.15 468.1h2.7V483.7h-2.7zM506.15 433.8h2.7V468.1h-2.7zM509.15 431.9h2.7V433.8h-2.7zM518.15 419.1h2.7V441.6h-2.7zM521.15 415.2h2.7V419.1h-2.7zM524.15 410.9h2.7V415.2h-2.7zM528.15 410.3h2.7V411.3h-2.7zM537.15 426.0h2.7V429.9h-2.7zM540.15 409.0h2.7V426.0h-2.7zM546.15 405.8h2.7V409.4h-2.7zM558.15 429.9h2.7V435.2h-2.7zM573.15 506.7h2.7V521.3h-2.7zM580.15 458.7h2.7V514.5h-2.7zM586.15 464.6h2.7V466.5h-2.7zM592.15 479.3h2.7V485.1h-2.7zM595.15 468.5h2.7V479.3h-2.7zM604.15 483.2h2.7V494.9h-2.7zM607.15 477.3h2.7V483.2h-2.7zM613.15 478.3h2.7V487.1h-2.7zM619.15 465.6h2.7V482.2h-2.7zM626.15 441.1h2.7V471.4h-2.7zM629.15 440.1h2.7V441.1h-2.7zM644.15 479.3h2.7V482.2h-2.7zM656.15 481.2h2.7V496.3h-2.7zM662.15 489.0h2.7V495.5h-2.7zM671.15 520.9h2.7V522.3h-2.7zM674.15 516.4h2.7V520.9h-2.7zM678.15 498.8h2.7V516.4h-2.7zM681.15 493.5h2.7V498.8h-2.7zM687.15 489.6h2.7V496.3h-2.7zM690.15 470.1h2.7V489.6h-2.7zM702.15 471.4h2.7V489.0h-2.7zM705.15 459.7h2.7V471.4h-2.7zM708.15 450.5h2.7V459.7h-2.7zM711.15 447.9h2.7V450.5h-2.7zM714.15 446.0h2.7V447.9h-2.7zM717.15 444.6h2.7V446.0h-2.7zM723.15 439.1h2.7V446.6h-2.7zM730.15 431.3h2.7V448.5h-2.7zM733.15 426.4h2.7V431.3h-2.7zM736.15 425.9h2.7V426.9h-2.7zM751.15 467.0h2.7V468.9h-2.7zM754.15 457.2h2.7V467.0h-2.7zM760.15 451.3h2.7V457.6h-2.7zM776.15 454.3h2.7V471.9h-2.7zM779.15 448.4h2.7V454.3h-2.7zM785.15 423.9h2.7V452.9h-2.7zM788.15 416.1h2.7V423.9h-2.7zM791.15 412.2h2.7V416.1h-2.7zM797.15 404.0h2.7V414.5h-2.7zM803.15 401.4h2.7V405.9h-2.7zM815.15 406.3h2.7V419.6h-2.7zM821.15 415.1h2.7V419.0h-2.7zM825.15 408.3h2.7V415.1h-2.7zM828.15 393.0h2.7V408.3h-2.7zM831.15 369.1h2.7V393.0h-2.7zM843.15 394.6h2.7V395.6h-2.7zM852.15 396.5h2.7V409.8h-2.7zM855.15 348.0h2.7V396.5h-2.7zM858.15 343.3h2.7V348.0h-2.7zM861.15 338.8h2.7V343.3h-2.7zM864.15 336.8h2.7V338.8h-2.7zM867.15 307.4h2.7V336.8h-2.7zM870.15 244.4h2.7V307.4h-2.7zM877.15 224.2h2.7V249.7h-2.7zM883.15 219.4h2.7V248.3h-2.7zM892.15 222.3h2.7V230.1h-2.7zM895.15 205.2h2.7V222.3h-2.7zM898.15 191.1h2.7V205.2h-2.7zM901.15 160.8h2.7V191.1h-2.7zM904.15 155.9h2.7V160.8h-2.7zM910.15 160.8h2.7V166.7h-2.7zM919.15 177.4h2.7V210.7h-2.7zM926.15 164.7h2.7V178.4h-2.7zM932.15 166.7h2.7V174.5h-2.7zM938.15 177.0h2.7V178.0h-2.7zM941.15 154.9h2.7V177.0h-2.7zM947.15 145.1h2.7V167.6h-2.7zM950.15 144.1h2.7V145.1h-2.7zM953.15 134.0h2.7V144.1h-2.7zM962.15 135.3h2.7V168.6h-2.7zM968.15 131.4h2.7V144.1h-2.7zM975.15 107.9h2.7V132.4h-2.7zM978.15 95.2h2.7V107.9h-2.7zM981.15 92.3h2.7V95.2h-2.7zM990.15 158.2h2.7V162.7h-2.7zM1002.15 153.0h2.7V185.6h-2.7zM1005.15 147.7h2.7V153.0h-2.7zM1014.15 182.9h2.7V191.1h-2.7zM1024.15 197.0h2.7V204.8h-2.7zM1027.15 189.2h2.7V197.0h-2.7zM1030.15 169.6h2.7V189.2h-2.7zM1033.15 160.8h2.7V169.6h-2.7zM1036.15 157.8h2.7V160.8h-2.7zM1039.15 156.9h2.7V157.9h-2.7zM1042.15 123.6h2.7V156.9h-2.7zM1054.15 186.2h2.7V204.8h-2.7zM1060.15 187.2h2.7V188.2h-2.7zM1066.15 171.5h2.7V187.6h-2.7zM1070.15 142.2h2.7V171.5h-2.7zM1076.15 111.9h2.7V144.1h-2.7zM1085.15 123.0h2.7V131.4h-2.7zM1088.15 92.3h2.7V123.0h-2.7zM1094.15 108.9h2.7V112.8h-2.7zM1097.15 102.1h2.7V108.9h-2.7zM1112.15 111.9h2.7V131.4h-2.7zM1115.15 105.4h2.7V111.9h-2.7zM1128.15 128.5h2.7V160.8h-2.7zM1143.15 170.8h2.7V171.8h-2.7zM1149.15 164.1h2.7V171.5h-2.7zM1155.15 159.8h2.7V175.5h-2.7zM1161.15 163.3h2.7V170.6h-2.7zM1164.15 162.7h2.7V163.7h-2.7zM1174.15 178.4h2.7V179.4h-2.7zM1177.15 174.5h2.7V178.4h-2.7zM1180.15 156.9h2.7V174.5h-2.7zM1186.15 172.5h2.7V174.5h-2.7zM1201.15 270.4h2.7V274.2h-2.7zM1207.15 257.2h2.7V271.9h-2.7zM1210.15 190.5h2.7V257.2h-2.7zM1217.15 248.6h2.7V257.2h-2.7zM1220.15 219.9h2.7V248.6h-2.7zM1238.15 282.1h2.7V320.6h-2.7z" fill="#089981"/>
<path d="M7.15 614.2h2.7V615.2h-2.7zM10.15 614.8h2.7V617.0h-2.7zM38.15 557.3h2.7V560.2h-2.7zM50.15 539.7h2.7V543.6h-2.7zM56.15 541.1h2.7V542.2h-2.7zM62.15 539.1h2.7V541.6h-2.7zM65.15 541.6h2.7V546.5h-2.7zM68.15 546.5h2.7V550.8h-2.7zM87.15 454.7h2.7V467.4h-2.7zM93.15 454.7h2.7V457.2h-2.7zM102.15 405.8h2.7V443.0h-2.7zM129.15 364.7h2.7V379.4h-2.7zM132.15 379.4h2.7V394.6h-2.7zM136.15 394.6h2.7V430.2h-2.7zM142.15 404.4h2.7V411.6h-2.7zM145.15 411.6h2.7V458.6h-2.7zM151.15 407.7h2.7V428.3h-2.7zM154.15 428.3h2.7V442.4h-2.7zM169.15 391.1h2.7V395.4h-2.7zM175.15 385.2h2.7V391.5h-2.7zM178.15 391.5h2.7V393.4h-2.7zM185.15 379.7h2.7V394.0h-2.7zM188.15 394.0h2.7V428.7h-2.7zM197.15 403.2h2.7V408.7h-2.7zM209.15 379.7h2.7V398.5h-2.7zM215.15 389.1h2.7V391.5h-2.7zM218.15 391.5h2.7V412.6h-2.7zM221.15 412.6h2.7V434.5h-2.7zM227.15 424.0h2.7V445.5h-2.7zM234.15 442.4h2.7V463.5h-2.7zM246.15 431.2h2.7V432.2h-2.7zM252.15 417.1h2.7V419.7h-2.7zM255.15 419.7h2.7V438.3h-2.7zM261.15 436.3h2.7V443.2h-2.7zM264.15 443.2h2.7V445.1h-2.7zM267.15 445.1h2.7V448.1h-2.7zM273.15 442.2h2.7V468.6h-2.7zM276.15 468.6h2.7V488.2h-2.7zM292.15 440.6h2.7V448.1h-2.7zM295.15 448.1h2.7V455.5h-2.7zM298.15 455.5h2.7V465.7h-2.7zM304.15 448.1h2.7V467.2h-2.7zM307.15 467.2h2.7V468.2h-2.7zM316.15 450.0h2.7V461.8h-2.7zM322.15 423.0h2.7V431.4h-2.7zM328.15 416.4h2.7V417.4h-2.7zM332.15 416.8h2.7V422.6h-2.7zM338.15 389.0h2.7V394.2h-2.7zM341.15 394.2h2.7V399.1h-2.7zM344.15 399.1h2.7V408.9h-2.7zM353.15 397.2h2.7V404.0h-2.7zM359.15 396.2h2.7V405.4h-2.7zM362.15 405.4h2.7V411.3h-2.7zM368.15 405.4h2.7V411.9h-2.7zM387.15 383.5h2.7V384.5h-2.7zM390.15 384.5h2.7V396.2h-2.7zM393.15 396.2h2.7V397.2h-2.7zM399.15 394.8h2.7V396.2h-2.7zM402.15 396.2h2.7V413.2h-2.7zM408.15 405.4h2.7V418.3h-2.7zM411.15 418.3h2.7V423.0h-2.7zM423.15 419.1h2.7V431.3h-2.7zM426.15 431.3h2.7V432.8h-2.7zM430.15 432.8h2.7V434.8h-2.7zM433.15 434.8h2.7V440.7h-2.7zM439.15 438.3h2.7V448.5h-2.7zM442.15 448.5h2.7V471.0h-2.7zM448.15 459.3h2.7V467.7h-2.7zM454.15 460.2h2.7V472.0h-2.7zM466.15 449.5h2.7V457.3h-2.7zM469.15 457.3h2.7V472.0h-2.7zM472.15 472.0h2.7V498.4h-2.7zM475.15 498.4h2.7V501.3h-2.7zM482.15 488.6h2.7V508.2h-2.7zM491.15 489.6h2.7V492.5h-2.7zM494.15 492.5h2.7V497.0h-2.7zM512.15 431.9h2.7V439.7h-2.7zM515.15 439.7h2.7V441.6h-2.7zM531.15 410.3h2.7V425.4h-2.7zM534.15 425.4h2.7V429.9h-2.7zM543.15 409.0h2.7V410.0h-2.7zM549.15 405.8h2.7V418.2h-2.7zM552.15 418.2h2.7V422.1h-2.7zM555.15 422.1h2.7V435.2h-2.7zM561.15 429.9h2.7V459.8h-2.7zM564.15 459.8h2.7V466.1h-2.7zM567.15 466.1h2.7V487.5h-2.7zM570.15 487.5h2.7V521.3h-2.7zM577.15 506.7h2.7V514.5h-2.7zM583.15 458.7h2.7V466.5h-2.7zM589.15 464.6h2.7V485.1h-2.7zM598.15 468.5h2.7V485.1h-2.7zM601.15 485.1h2.7V494.9h-2.7zM610.15 477.3h2.7V487.1h-2.7zM616.15 478.3h2.7V482.2h-2.7zM622.15 465.6h2.7V471.4h-2.7zM632.15 440.1h2.7V441.1h-2.7zM635.15 441.1h2.7V450.5h-2.7zM638.15 450.5h2.7V478.3h-2.7zM641.15 478.3h2.7V482.2h-2.7zM647.15 479.3h2.7V481.2h-2.7zM650.15 481.2h2.7V483.2h-2.7zM653.15 483.2h2.7V496.3h-2.7zM659.15 481.2h2.7V495.5h-2.7zM665.15 489.0h2.7V506.7h-2.7zM668.15 506.7h2.7V522.3h-2.7zM684.15 493.5h2.7V496.3h-2.7zM693.15 470.1h2.7V474.4h-2.7zM696.15 474.4h2.7V481.2h-2.7zM699.15 481.2h2.7V489.0h-2.7zM720.15 444.6h2.7V446.6h-2.7zM727.15 439.1h2.7V448.5h-2.7zM739.15 425.9h2.7V427.5h-2.7zM742.15 427.5h2.7V447.0h-2.7zM745.15 447.0h2.7V468.0h-2.7zM748.15 468.0h2.7V469.0h-2.7zM757.15 457.2h2.7V458.2h-2.7zM763.15 451.3h2.7V455.2h-2.7zM766.15 455.2h2.7V456.2h-2.7zM769.15 456.2h2.7V469.9h-2.7zM772.15 469.9h2.7V471.9h-2.7zM782.15 448.4h2.7V452.9h-2.7zM794.15 412.2h2.7V414.5h-2.7zM800.15 404.0h2.7V405.9h-2.7zM806.15 401.4h2.7V413.2h-2.7zM809.15 413.2h2.7V414.2h-2.7zM812.15 413.8h2.7V419.6h-2.7zM818.15 406.3h2.7V419.0h-2.7zM834.15 369.1h2.7V372.1h-2.7zM837.15 372.1h2.7V389.7h-2.7zM840.15 389.7h2.7V395.6h-2.7zM846.15 394.6h2.7V401.4h-2.7zM849.15 401.4h2.7V409.8h-2.7zM874.15 244.4h2.7V249.7h-2.7zM880.15 224.2h2.7V248.3h-2.7zM886.15 219.4h2.7V223.3h-2.7zM889.15 223.3h2.7V230.1h-2.7zM907.15 155.9h2.7V166.7h-2.7zM913.15 160.8h2.7V203.8h-2.7zM916.15 203.8h2.7V210.7h-2.7zM923.15 177.4h2.7V178.4h-2.7zM929.15 164.7h2.7V174.5h-2.7zM935.15 166.7h2.7V177.4h-2.7zM944.15 154.9h2.7V167.6h-2.7zM956.15 134.0h2.7V164.7h-2.7zM959.15 164.7h2.7V168.6h-2.7zM965.15 135.3h2.7V144.1h-2.7zM972.15 131.4h2.7V132.4h-2.7zM984.15 92.3h2.7V141.2h-2.7zM987.15 141.2h2.7V162.7h-2.7zM993.15 158.2h2.7V163.3h-2.7zM996.15 163.3h2.7V181.3h-2.7zM999.15 181.3h2.7V185.6h-2.7zM1008.15 147.7h2.7V178.4h-2.7zM1011.15 178.4h2.7V191.1h-2.7zM1017.15 182.9h2.7V197.0h-2.7zM1021.15 197.0h2.7V204.8h-2.7zM1045.15 123.6h2.7V167.2h-2.7zM1048.15 167.2h2.7V183.3h-2.7zM1051.15 183.3h2.7V204.8h-2.7zM1057.15 186.2h2.7V188.2h-2.7zM1063.15 187.2h2.7V188.2h-2.7zM1073.15 142.2h2.7V144.1h-2.7zM1079.15 111.9h2.7V112.9h-2.7zM1082.15 112.8h2.7V131.4h-2.7zM1091.15 92.3h2.7V112.8h-2.7zM1100.15 102.1h2.7V103.1h-2.7zM1103.15 102.7h2.7V121.6h-2.7zM1106.15 121.6h2.7V125.6h-2.7zM1109.15 125.6h2.7V131.4h-2.7zM1119.15 105.4h2.7V121.6h-2.7zM1122.15 121.6h2.7V134.8h-2.7zM1125.15 134.8h2.7V160.8h-2.7zM1131.15 128.5h2.7V159.8h-2.7zM1134.15 159.8h2.7V170.6h-2.7zM1137.15 170.6h2.7V171.6h-2.7zM1140.15 171.2h2.7V172.2h-2.7zM1146.15 170.8h2.7V171.8h-2.7zM1152.15 164.1h2.7V175.5h-2.7zM1158.15 159.8h2.7V170.6h-2.7zM1168.15 162.7h2.7V174.5h-2.7zM1171.15 174.5h2.7V179.4h-2.7zM1183.15 156.9h2.7V174.5h-2.7zM1189.15 172.5h2.7V175.1h-2.7zM1192.15 175.1h2.7V212.0h-2.7zM1195.15 212.0h2.7V236.9h-2.7zM1198.15 236.9h2.7V274.2h-2.7zM1204.15 270.4h2.7V271.9h-2.7zM1213.15 190.5h2.7V257.2h-2.7zM1223.15 219.9h2.7V225.6h-2.7zM1226.15 225.6h2.7V252.3h-2.7zM1229.15 252.3h2.7V256.1h-2.7zM1232.15 256.1h2.7V302.5h-2.7zM1235.15 302.5h2.7V320.6h-2.7z" fill="#f23645"/>
<path d="M0 282.5H1575" stroke="#089981" stroke-width="1" stroke-dasharray="1.2 2"/>
<path d="M0 175.5H1536M195.5 0V680" stroke="#9598a1" stroke-width="1" stroke-dasharray="6 4.6" fill="none"/></svg>
<div class="scale">
<span class="t" id="t0" style="left:1592.4px;top:131.7px;font-size:20.93px;line-height:20.93px;transform:scaleX(1.0563);">100.000,00</span>
<span class="t" id="t1" style="left:1591.2px;top:213.9px;font-size:20.93px;line-height:20.93px;transform:scaleX(1.0511);">90.000,00</span>
<span class="t" id="t2" style="left:1591.2px;top:297.1px;font-size:20.93px;line-height:20.93px;transform:scaleX(1.0511);">80.000,00</span>
<span class="t" id="t3" style="left:1591.2px;top:380.5px;font-size:20.93px;line-height:20.93px;transform:scaleX(1.0511);">70.000,00</span>
<span class="t" id="t4" style="left:1591.2px;top:463.3px;font-size:20.93px;line-height:20.93px;transform:scaleX(1.0511);">60.000,00</span>
<span class="t" id="t5" style="left:1591.2px;top:546.1px;font-size:20.93px;line-height:20.93px;transform:scaleX(1.0511);">50.000,00</span>
<span class="t" id="t6" style="left:1592.3px;top:628.7px;font-size:20.93px;line-height:20.93px;transform:scaleX(1.0559);">40.000,00</span>
</div>
<span class="t" id="t7" style="left:71.0px;top:698.0px;font-size:22.09px;line-height:22.09px;">Mar</span>
<span class="t" id="t8" style="left:250.9px;top:698.0px;font-size:22.09px;line-height:22.09px;transform:scaleX(0.9827);">Mayo</span>
<svg class="ui" width="1716" height="818" viewBox="0 0 1716 818"><circle cx="31.5" cy="26.85" r="16.7" fill="#f7931a"/><clipPath id="pc"><rect x="675.6" y="10" width="75.7" height="33.9" rx="16.95"/></clipPath><g clip-path="url(#pc)"><rect x="675" y="9" width="38" height="36" fill="#ddf2ee"/><rect x="713" y="9" width="40" height="36" fill="#f3e2f7"/></g><circle cx="695.7" cy="26.8" r="7.6" fill="#089981"/><g stroke="#ab47bc" stroke-width="2.3" fill="none"><path d="M720.9 27L735.3 19.2L735.3 35Z"/></g><g fill="#ab47bc"><circle cx="720.9" cy="27" r="3.9"/><circle cx="735.3" cy="19.2" r="3.9"/><circle cx="735.3" cy="35" r="3.9"/></g><rect x="1582.8" y="5.6" width="130.3" height="45.6" rx="7" fill="#fff" stroke="#e0e3eb" stroke-width="1"/><path d="M1695.6 25.2L1700.5 30.1L1705.4 25.2" stroke="#131722" stroke-width="2.3" fill="none"/><rect x="14.8" y="57.6" width="146.2" height="62.4" rx="6.5" fill="#fff" stroke="#f23645" stroke-width="1.2"/><rect x="228.1" y="57.6" width="147.6" height="62.4" rx="6.5" fill="#fff" stroke="#2962ff" stroke-width="1.2"/><rect x="15.7" y="177.8" width="51.2" height="36.1" rx="5" fill="#fff" stroke="#e0e3eb" stroke-width="1"/><path d="M33.7 199.6L41.2 192.1L48.7 199.6" stroke="#131722" stroke-width="2.1" fill="none"/><path d="M1576.0 58.8H1710.2Q1713.2 58.8 1713.2 61.8V85.7Q1713.2 88.7 1710.2 88.7H1576.0V58.8Z" fill="#0c0c0c" /><path d="M1576.0 88.7H1710.2Q1713.2 88.7 1713.2 91.7V119.1Q1713.2 122.1 1710.2 122.1H1576.0V88.7Z" fill="#f23645" /><path d="M1576.0 194.6H1697.0Q1700.0 194.6 1700.0 197.6V218.7Q1700.0 221.7 1697.0 221.7H1576.0V194.6Z" fill="#00bcd4" /><path d="M1539.9 156.3H1574.8V194.6H1539.9Q1535.9 194.6 1535.9 190.6V160.3Q1535.9 156.3 1539.9 156.3Z" fill="#131722" /><circle cx="1555.3" cy="175.4" r="12.6" stroke="#fff" stroke-width="1.1" fill="none"/><path d="M1547.8 175.4H1562.8M1555.3 167.9V182.9" stroke="#fff" stroke-width="1.4"/><path d="M1576.0 156.3H1697.0Q1700.0 156.3 1700.0 159.3V191.6Q1700.0 194.6 1697.0 194.6H1576.0V156.3Z" fill="#131722" /><path d="M1576.0 266.3H1697.0Q1700.0 266.3 1700.0 269.3V321.7Q1700.0 324.7 1697.0 324.7H1576.0V266.3Z" fill="#089981" /><path d="M1576.0 324.7H1697.0Q1700.0 324.7 1700.0 327.7V353.5Q1700.0 356.5 1697.0 356.5H1576.0V324.7Z" fill="#2962ff" /><path d="M1576.0 385.4H1697.0Q1700.0 385.4 1700.0 388.4V414.4Q1700.0 417.4 1697.0 417.4H1576.0V385.4Z" fill="#2962ff" /><path d="M1576.0 473.0H1697.0Q1700.0 473.0 1700.0 476.0V502.6Q1700.0 505.6 1697.0 505.6H1576.0V473.0Z" fill="#2962ff" /><path d="M1576.0 546.0H1697.0Q1700.0 546.0 1700.0 549.0V575.8Q1700.0 578.8 1697.0 578.8H1576.0V546.0Z" fill="#0c0c0c" /><path d="M1576.0 590.4H1633.0Q1636.0 590.4 1636.0 593.4V620.0Q1636.0 623.0 1633.0 623.0H1576.0V590.4Z" fill="#26a69a" /><path d="M108.0 681.2H280.4V721.8Q280.4 725.8 276.4 725.8H112.0Q108.0 725.8 108.0 721.8V681.2Z" fill="#131722" /><path d="M0 734.5H1716" stroke="#e0e3eb" stroke-width="1"/><path d="M1641.6 697H1654.8L1661.1 708.3L1654.8 719.6H1641.6L1635.3 708.3Z" stroke="#131722" stroke-width="2" fill="none" stroke-linejoin="round"/><circle cx="1648.2" cy="708.3" r="3.8" stroke="#131722" stroke-width="2" fill="none"/><path d="M550.9 750V791.4" stroke="#e0e3eb" stroke-width="1"/><g stroke="#131722" stroke-width="2" fill="none" stroke-linecap="round" stroke-linejoin="round"><path d="M579.6 771.5V762.3Q579.6 757.8 584.1 757.8H607Q611.5 757.8 611.5 762.3V780.5Q611.5 785 607 785H595.8"/><path d="M579.6 765.3H611.5M589 753V760M601.8 753V760M576.8 779.8H590.3M584.8 774.3L590.5 779.8L584.8 785.3"/></g><path d="M7 807H1716V813.9H0Q0 807 7 807Z" fill="#eaeaea"/><g stroke="#c6c6c6" stroke-width="1.2" fill="none" transform="translate(1510.5 786.3) scale(.94 .83)"><path d="M3 13L7 9.5L11 13M23 13L27 9.5L31 13M9 7.5L17 1L25 7.5M12 11.5L17 16L22 11.5M7 17L17 26.5L27 17"/></g></svg>
<div class="hdr">
<span class="coin">₿</span>
<div class="title">
<span class="t" id="t9" style="left:55.6px;top:12.9px;font-size:29.80px;line-height:29.80px;transform:scaleX(1.0477);">Bitcoin</span>
<span class="t" id="t10" style="left:151.6px;top:12.9px;font-size:29.80px;line-height:29.80px;transform:scaleX(0.9667);">/</span>
<span class="t" id="t11" style="left:165.0px;top:12.9px;font-size:29.80px;line-height:29.80px;transform:scaleX(0.9725);">Dólar</span>
<span class="t" id="t12" style="left:244.2px;top:12.9px;font-size:29.80px;line-height:29.80px;transform:scaleX(0.9957);">estadounidense</span>
<span class="t" id="t13" style="left:458.9px;top:12.9px;font-size:29.80px;line-height:29.80px;transform:scaleX(1.1000);">·</span>
<span class="t" id="t14" style="left:476.8px;top:12.8px;font-size:29.80px;line-height:29.80px;transform:scaleX(0.8429);">1D</span>
<span class="t" id="t15" style="left:514.9px;top:12.9px;font-size:29.80px;line-height:29.80px;transform:scaleX(1.1000);">·</span>
<span class="t" id="t16" style="left:532.2px;top:12.8px;font-size:29.80px;line-height:29.80px;transform:scaleX(0.8760);">BINANCE</span>
</div>
<div class="ohlc">
<span class="t" id="t17" style="left:779.6px;top:17.0px;font-size:22.53px;line-height:22.53px;transform:scaleX(0.9062);">O</span>
<span class="t" id="t18" style="left:798.5px;top:17.0px;font-size:22.53px;line-height:22.53px;color:#089981;transform:scaleX(1.0606);">66.079,03</span>
<span class="t" id="t19" style="left:917.4px;top:17.0px;font-size:22.53px;line-height:22.53px;transform:scaleX(0.9714);">H</span>
<span class="t" id="t20" style="left:934.3px;top:17.0px;font-size:22.53px;line-height:22.53px;color:#089981;transform:scaleX(1.0566);">69.384,41</span>
<span class="t" id="t21" style="left:1053.6px;top:17.0px;font-size:22.53px;line-height:22.53px;transform:scaleX(0.8636);">L</span>
<span class="t" id="t22" style="left:1066.9px;top:17.0px;font-size:22.53px;line-height:22.53px;color:#089981;transform:scaleX(1.0707);">65.171,84</span>
<span class="t" id="t23" style="left:1186.2px;top:17.0px;font-size:22.53px;line-height:22.53px;transform:scaleX(0.8333);">C</span>
<span class="t" id="t24" style="left:1202.7px;top:17.0px;font-size:22.53px;line-height:22.53px;color:#089981;transform:scaleX(1.0626);">68.573,06</span>
<span class="t" id="t25" style="left:1321.4px;top:17.0px;font-size:22.53px;line-height:22.53px;color:#089981;transform:scaleX(1.0465);">+2.516,41</span>
<span class="t" id="t26" style="left:1436.7px;top:17.0px;font-size:22.53px;line-height:22.53px;color:#089981;transform:scaleX(0.9922);">(+3,81%)</span>
</div>
<span class="t" id="t27" style="left:1588.7px;top:17.0px;font-size:21.22px;line-height:21.22px;transform:scaleX(0.8930);">USD</span>
</div>
<div class="trade">
<span class="t" id="t28" style="left:33.3px;top:68.1px;font-size:20.64px;line-height:20.64px;font-weight:700;color:#f23645;transform:scaleX(1.1867);-webkit-text-stroke-width:0;">83.158,36</span>
<span class="t" id="t29" style="left:50.8px;top:94.7px;font-size:18.90px;line-height:18.90px;color:#f23645;transform:scaleX(0.9423);">VENDER</span>
<span class="t" id="t30" style="left:177.0px;top:80.7px;font-size:18.90px;line-height:18.90px;transform:scaleX(0.9861);">0,00</span>
<span class="t" id="t31" style="left:247.1px;top:68.1px;font-size:20.64px;line-height:20.64px;font-weight:700;color:#2962ff;transform:scaleX(1.1856);-webkit-text-stroke-width:0;">83.158,36</span>
<span class="t" id="t32" style="left:254.5px;top:94.7px;font-size:18.90px;line-height:18.90px;color:#2962ff;transform:scaleX(0.9737);">COMPRAR</span>
</div>
<div class="legend">
<span class="t" id="t33" style="left:15.2px;top:140.7px;font-size:23.69px;line-height:23.69px;transform:scaleX(1.0105);">Vol.</span>
<span class="t" id="t34" style="left:63.4px;top:140.6px;font-size:23.69px;line-height:23.69px;transform:scaleX(1.4000);">·</span>
<span class="t" id="t35" style="left:79.2px;top:140.6px;font-size:23.69px;line-height:23.69px;transform:scaleX(0.8933);">BTC</span>
<span class="t" id="t36" style="left:136.6px;top:140.7px;font-size:23.69px;line-height:23.69px;color:#26a69a;transform:scaleX(0.9842);">378</span>
</div>
<div class="axis">
<span class="t" id="t37" style="left:1592.4px;top:62.0px;font-size:20.93px;line-height:20.93px;color:#fff;transform:scaleX(1.0598);-webkit-text-stroke-width:.6px;">108.211,23</span>
<span class="t" id="t38" style="left:1592.5px;top:94.2px;font-size:20.93px;line-height:20.93px;color:#fff;transform:scaleX(1.0437);-webkit-text-stroke-width:.6px;">104.533,37</span>
<span class="t" id="t39" style="left:1591.2px;top:194.9px;font-size:20.93px;line-height:20.93px;color:#000;transform:scaleX(1.0511);">92.497,83</span>
<span class="t" id="t40" style="left:1591.2px;top:164.8px;font-size:20.93px;line-height:20.93px;font-weight:700;color:#fff;transform:scaleX(1.0689);-webkit-text-stroke-width:0;">96.083,11</span>
<span class="t" id="t41" style="left:1591.2px;top:271.6px;font-size:20.93px;line-height:20.93px;color:#fff;transform:scaleX(1.0511);-webkit-text-stroke-width:.6px;">83.158,36</span>
<span class="t" id="t42" style="left:1592.3px;top:295.6px;font-size:20.93px;line-height:20.93px;color:rgba(255,255,255,.72);transform:scaleX(1.0580);">01:33:17</span>
<span class="t" id="t43" style="left:1591.2px;top:329.0px;font-size:20.93px;line-height:20.93px;color:#fff;transform:scaleX(1.0511);-webkit-text-stroke-width:.6px;">76.568,43</span>
<span class="t" id="t44" style="left:1591.2px;top:390.6px;font-size:20.93px;line-height:20.93px;color:#fff;transform:scaleX(1.0511);-webkit-text-stroke-width:.6px;">68.839,26</span>
<span class="t" id="t45" style="left:1591.2px;top:478.4px;font-size:20.93px;line-height:20.93px;color:#fff;transform:scaleX(1.0626);-webkit-text-stroke-width:.6px;">58.186,39</span>
<span class="t" id="t46" style="left:1592.3px;top:550.2px;font-size:20.93px;line-height:20.93px;color:#fff;transform:scaleX(1.0511);-webkit-text-stroke-width:.6px;">49.388,71</span>
<span class="t" id="t47" style="left:1592.3px;top:596.8px;font-size:20.93px;line-height:20.93px;color:#fff;transform:scaleX(1.0091);-webkit-text-stroke-width:.6px;">720</span>
</div>
<svg class="ev" style="left:1216px;top:588px" width="66" height="92" viewBox="1216 588 66 92"><circle cx="1239.4" cy="610.2" r="17.9" fill="#fff" stroke="#9c27b0" stroke-width="2.7"/><path d="M1246 600.4L1231 611.4H1238.6L1233.6 620.4L1248 609.4H1240.8Z" fill="#9c27b0"/><circle cx="1258.4" cy="656.6" r="19" fill="#fff" stroke="#f23645" stroke-width="2.6"/><circle cx="1258.4" cy="656.6" r="16.9" fill="#f23645"/><circle cx="1253.6" cy="656.6" r="19" fill="#fff" stroke="#f23645" stroke-width="2.6"/><circle cx="1253.6" cy="656.6" r="16.9" fill="#f23645"/><circle cx="1248.8" cy="656.6" r="19" fill="#fff" stroke="#f23645" stroke-width="2.6"/><circle cx="1248.8" cy="656.6" r="16.9" fill="#f23645"/><circle cx="1244" cy="656.6" r="19" fill="#fff" stroke="#f23645" stroke-width="2.6"/><circle cx="1244" cy="656.6" r="16.9" fill="#f23645"/><circle cx="1239" cy="656.6" r="19" fill="#fff" stroke="#f23645" stroke-width="2.6"/><clipPath id="fc"><circle cx="1239" cy="656.6" r="15.4"/></clipPath><g clip-path="url(#fc)"><rect x="1222" y="640" width="34" height="34" fill="#fff"/><rect x="1222" y="641" width="34" height="4.6" fill="#ef5350"/><rect x="1222" y="650.2" width="34" height="4.6" fill="#ef5350"/><rect x="1222" y="663" width="34" height="10" fill="#ef5350"/><rect x="1222" y="640" width="21" height="19.5" fill="#2979ff"/><circle cx="1229.0" cy="645.5" r="1.4" fill="#fff"/><circle cx="1229.0" cy="650.5" r="1.4" fill="#fff"/><circle cx="1229.0" cy="655.5" r="1.4" fill="#fff"/><circle cx="1233.6" cy="645.5" r="1.4" fill="#fff"/><circle cx="1233.6" cy="650.5" r="1.4" fill="#fff"/><circle cx="1233.6" cy="655.5" r="1.4" fill="#fff"/><circle cx="1238.2" cy="645.5" r="1.4" fill="#fff"/><circle cx="1238.2" cy="650.5" r="1.4" fill="#fff"/><circle cx="1238.2" cy="655.5" r="1.4" fill="#fff"/></g></svg>
<svg class="logo" style="left:10px;top:615px" width="320" height="60" viewBox="10 615 320 60"><g stroke="#fff" stroke-width="6" stroke-linejoin="round" fill="#fff"><path d="M20.3 626.8H43.6V654.8H32.4V637.4H20.3Z"/><circle cx="53.3" cy="632" r="5.2"/><path d="M62.6 626.8H76.4L66 654.8H52.4Z"/></g><g fill="#0d0f15"><path d="M20.3 626.8H43.6V654.8H32.4V637.4H20.3Z"/><circle cx="53.3" cy="632" r="5.2"/><path d="M62.6 626.8H76.4L66 654.8H52.4Z"/></g><text x="89.5" y="654.8" font-family="Liberation Sans, sans-serif" font-weight="700" font-size="40.6" textLength="227" lengthAdjust="spacingAndGlyphs" fill="#131722" stroke="#fff" stroke-width="6" stroke-linejoin="round" paint-order="stroke">TradingView</text><text x="89.5" y="654.8" font-family="Liberation Sans, sans-serif" font-weight="700" font-size="40.6" textLength="227" lengthAdjust="spacingAndGlyphs" fill="#0d0f15">TradingView</text></svg>
<div class="taxis">
<span class="t" id="t48" style="left:449.5px;top:698.0px;font-size:22.09px;line-height:22.09px;transform:scaleX(1.0741);">Jul</span>
<span class="t" id="t49" style="left:635.1px;top:698.0px;font-size:22.09px;line-height:22.09px;transform:scaleX(0.9211);">Sep</span>
<span class="t" id="t50" style="left:822.0px;top:698.0px;font-size:22.09px;line-height:22.09px;transform:scaleX(0.9579);">Nov</span>
<span class="t" id="t51" style="left:1001.6px;top:698.8px;font-size:22.09px;line-height:22.09px;font-weight:700;transform:scaleX(1.0766);-webkit-text-stroke-width:0;">2025</span>
<span class="t" id="t52" style="left:1189.6px;top:698.0px;font-size:22.09px;line-height:22.09px;transform:scaleX(0.9568);">Mar</span>
<span class="t" id="t53" style="left:1368.7px;top:698.0px;font-size:22.09px;line-height:22.09px;transform:scaleX(0.9865);">Mayo</span>
<span class="t" id="t54" style="left:125.6px;top:697.9px;font-size:22.38px;line-height:22.38px;color:#fff;transform:scaleX(1.0102);-webkit-text-stroke-width:.6px;">jue 04 Abr '24</span>
</div>
<div class="tb">
<span class="t" id="t55" style="left:24.2px;top:758.1px;font-size:26.02px;line-height:26.02px;transform:scaleX(0.8967);">1D</span>
<span class="t" id="t56" style="left:77.0px;top:758.1px;font-size:26.02px;line-height:26.02px;transform:scaleX(0.9000);">5D</span>
<span class="t" id="t57" style="left:128.9px;top:758.1px;font-size:26.02px;line-height:26.02px;transform:scaleX(0.9437);">1M</span>
<span class="t" id="t58" style="left:184.1px;top:758.1px;font-size:26.02px;line-height:26.02px;transform:scaleX(0.9333);">3M</span>
<span class="t" id="t59" style="left:238.4px;top:758.1px;font-size:26.02px;line-height:26.02px;transform:scaleX(0.9515);">6M</span>
<span class="t" id="t60" style="left:293.4px;top:758.1px;font-size:26.02px;line-height:26.02px;transform:scaleX(0.9000);">YTD</span>
<span class="t" id="t61" style="left:362.7px;top:758.1px;font-size:26.02px;line-height:26.02px;transform:scaleX(0.8833);">1A</span>
<span class="t" id="t62" style="left:414.3px;top:758.1px;font-size:26.02px;line-height:26.02px;transform:scaleX(0.8968);">5A</span>
<span class="t" id="t63" style="left:466.2px;top:758.1px;font-size:26.02px;line-height:26.02px;transform:scaleX(0.9319);">Todos</span>
<span class="t" id="t64" style="left:1516.5px;top:757.6px;font-size:26.60px;line-height:26.60px;color:#0f1218;transform:scaleX(0.9345);">23:26:43 UTC+1</span>
</div>
<span class="t" id="t65" style="left:1543.4px;top:783.4px;font-size:23.98px;line-height:23.98px;color:#fff;transform:scaleX(0.9933);-webkit-text-stroke:.9px #cbcbcb;text-shadow:1px 1px 1px rgba(0,0,0,.14);">@ElectroShock</span>
</body></html>
